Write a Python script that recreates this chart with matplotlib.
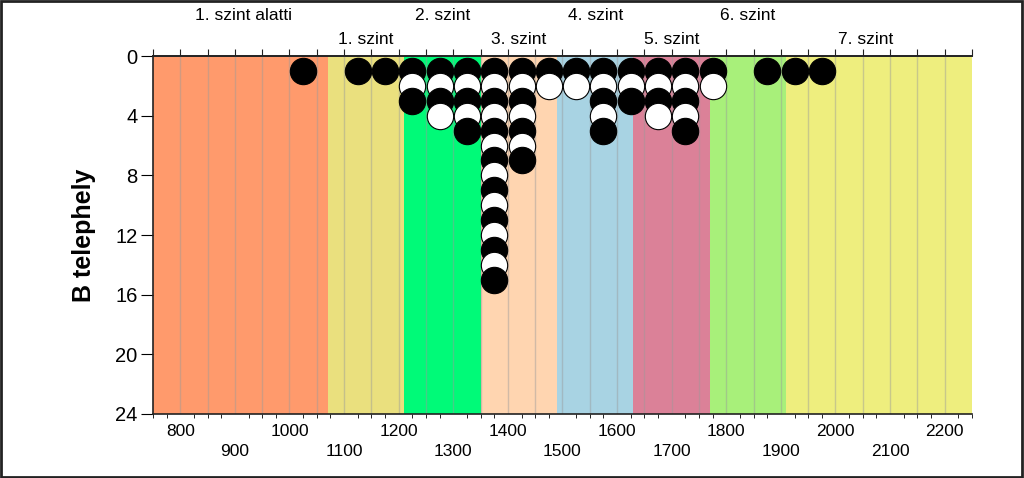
import matplotlib.pyplot as plt
from matplotlib.patches import Rectangle
import numpy as np

plt.rcParams["font.family"] = ["Liberation Sans", "DejaVu Sans"]

# sample positions (x) and how many stacked circles each one has
positions = [1025, 1125, 1175, 1225, 1275, 1325, 1375, 1425, 1475,
             1525, 1575, 1625, 1675, 1725, 1775, 1875, 1925, 1975]
counts = [1, 1, 1, 3, 4, 5, 15, 7, 2, 2, 5, 3, 4, 5, 2, 1, 1, 1]

# level bands
band_edges = [750, 1070, 1210, 1350, 1490, 1630, 1770, 1910, 2250]
band_colors = ["#FF9A6C", "#EAE07E", "#00FA78", "#FFD5B0",
               "#A8D3E3", "#DB8198", "#A8F07A", "#EEEE7E"]
level_names = ["1. szint alatti", "1. szint", "2. szint", "3. szint",
               "4. szint", "5. szint", "6. szint", "7. szint"]
level_centers = [915, 1140, 1280, 1420, 1560, 1700, 1840, 2055]

x_labels = list(range(800, 2201, 100))
y_ticks = list(range(0, 25, 4))

fig = plt.figure(figsize=(10.24, 4.78), dpi=100)
ax = fig.add_axes([0.1494, 0.1339, 0.7998, 0.7489])

for i in range(len(band_colors)):
    ax.axvspan(band_edges[i], band_edges[i + 1], color=band_colors[i], lw=0, zorder=0)

for gx in np.arange(800, 2250, 50):
    ax.axvline(gx, color="#9a9a9a", alpha=0.45, lw=1, zorder=1)

pos = np.array(positions)
cnt = np.array(counts)
for level in range(1, cnt.max() + 1):
    xs = pos[cnt >= level]
    face = "black" if level % 2 == 1 else "white"
    ax.scatter(xs, np.full(len(xs), level), s=360, facecolor=face,
               edgecolor="black", linewidth=0.8, zorder=3 + level, clip_on=False)

ax.set_xlim(750, 2250)
ax.set_ylim(24, 0)

ax.spines["right"].set_visible(False)
for s in ["left", "top", "bottom"]:
    ax.spines[s].set_color("#222222")
    ax.spines[s].set_linewidth(1.2)

ax.set_yticks(y_ticks)
ax.tick_params(axis="y", labelsize=14.5, length=9, direction="out", pad=2)

ax.set_xticks(x_labels)
ax.set_xticklabels([str(v) if (v // 100) % 2 == 0 else "\n" + str(v) for v in x_labels],
                   linespacing=1.4)
ax.set_xticks(np.arange(750, 2251, 25), minor=True)
ax.tick_params(axis="x", which="major", labelsize=12.5, length=0, pad=7)
ax.tick_params(axis="x", which="minor", length=3, direction="out")

# top ticks every 50
top = ax.secondary_xaxis("top")
top.set_xticks(np.arange(750, 2251, 50))
top.set_xticklabels([])
top.tick_params(length=5, direction="out", color="#222222")
top.spines["top"].set_color("#222222")
top.spines["top"].set_linewidth(1.2)

for i, name in enumerate(level_names):
    yy = 1.112 if i % 2 == 0 else 1.045
    ax.text(level_centers[i], yy, name, transform=ax.get_xaxis_transform(),
            ha="center", va="center", fontsize=12.5)

ax.set_ylabel("B telephely", fontsize=18, fontweight="bold", labelpad=14)

fig.patches.append(Rectangle((0.001, 0.002), 0.997, 0.995, transform=fig.transFigure,
                             fill=False, edgecolor="#222222", linewidth=2))

fig.savefig("out.png", dpi=100)
